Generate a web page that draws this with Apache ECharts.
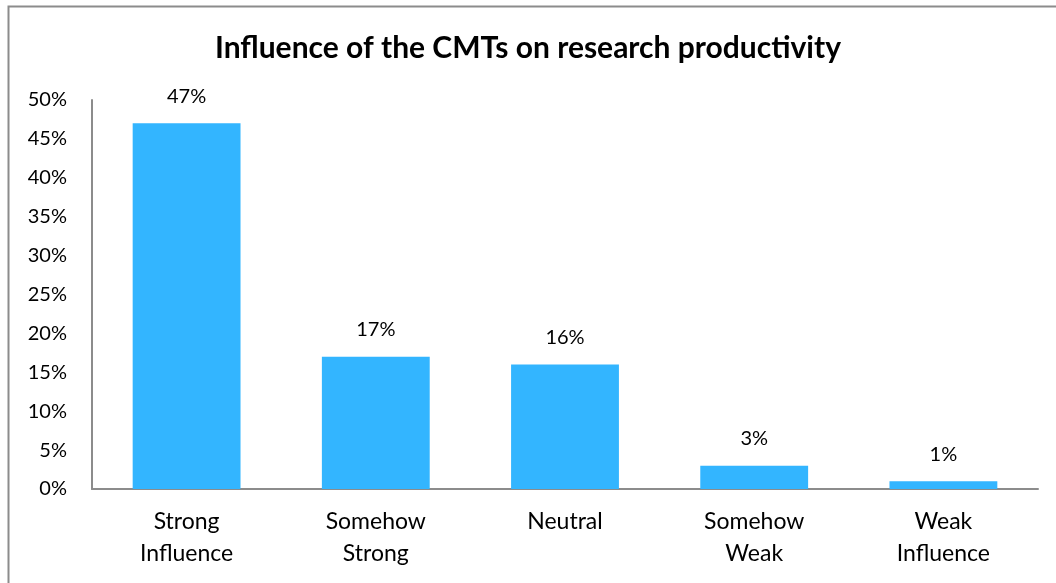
<!DOCTYPE html>
<html><head><meta charset="utf-8">
<script src="https://cdn.jsdelivr.net/npm/echarts@6/dist/echarts.min.js"></script>
<style>html,body{margin:0;padding:0;background:#fff}#c{width:1056px;height:583px}</style>
</head><body><div id="c"></div>
<script>
const title = "Influence of the CMTs on research productivity";
const categories = ["Strong\nInfluence", "Somehow\nStrong", "Neutral", "Somehow\nWeak", "Weak\nInfluence"];
const values = [47, 17, 16, 3, 1];
const yMin = 0, yMax = 50, yStep = 5;

const chart = echarts.init(document.getElementById('c'));
chart.setOption({
  animation: false,
  title: {
    text: title, left: 'center', top: 28,
    textStyle: {fontFamily: 'Lato', fontWeight: 'bold', fontSize: 30, color: '#000'}
  },
  graphic: [{type: 'rect', shape: {x: 8.5, y: 6.5, width: 1060, height: 600}, style: {fill: 'none', stroke: '#8c8c8c', lineWidth: 2}}],
  grid: {left: 92, right: 18, top: 100, bottom: 94},
  xAxis: {
    type: 'category', data: categories,
    axisLine: {lineStyle: {color: '#8c8c8c', width: 2}},
    axisTick: {show: false},
    axisLabel: {fontFamily: 'Lato', fontSize: 23, color: '#000', lineHeight: 32, margin: 17}
  },
  yAxis: {
    type: 'value', min: yMin, max: yMax, interval: yStep,
    axisLine: {show: true, lineStyle: {color: '#8c8c8c', width: 2}},
    axisTick: {show: false},
    splitLine: {show: false},
    axisLabel: {fontFamily: 'Lato', fontSize: 20, color: '#000', margin: 25, formatter: '{value}%'}
  },
  series: [{
    type: 'bar', data: values, barWidth: '57%',
    itemStyle: {color: '#33b5ff'},
    label: {show: true, position: 'top', distance: 17, formatter: '{c}%', fontFamily: 'Lato', fontSize: 20, color: '#000'}
  }]
});
</script></body></html>
